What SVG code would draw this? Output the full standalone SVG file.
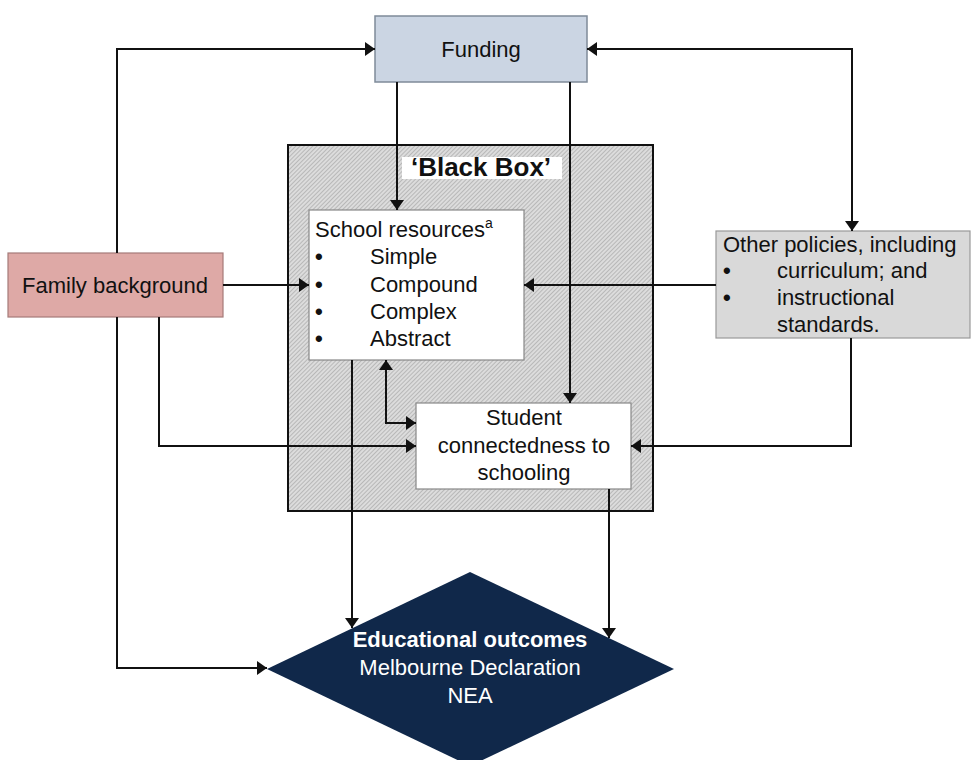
<svg xmlns="http://www.w3.org/2000/svg" width="972" height="760" viewBox="0 0 972 760">
<style>
text{font-family:"Liberation Sans",Arial,sans-serif;font-size:22px;fill:#111}
.c{text-anchor:middle}
.b{font-weight:bold}
.w{fill:#fff}
.bu{font-weight:bold}
.ln{fill:none;stroke:#111;stroke-width:2}
.wbox{fill:#fff;stroke:#888;stroke-width:1.2}
</style>
<defs>
<pattern id="hatch" width="3" height="3" patternUnits="userSpaceOnUse" patternTransform="rotate(45)">
<rect width="3" height="3" fill="#dcdcdc"/>
<line x1="0" y1="0" x2="0" y2="3" stroke="#9a9a9a" stroke-width="1.1"/>
</pattern>
<marker id="ah" viewBox="0 0 10 14" refX="10" refY="7" markerWidth="11" markerHeight="14" markerUnits="userSpaceOnUse" orient="auto-start-reverse">
<path d="M0,0 L10,7 L0,14 z" fill="#111"/>
</marker>
</defs>
<rect width="972" height="760" fill="#fff"/>

<g id="blackbox">
<rect x="288" y="145" width="365" height="366" fill="url(#hatch)" stroke="#111" stroke-width="2"/>
<rect x="402" y="157" width="160" height="22" fill="#fff"/>
<text x="481" y="176" class="c b" style="font-size:26px">‘Black Box’</text>
</g>

<g id="funding">
<rect x="375" y="16" width="212" height="66" fill="#cbd5e3" stroke="#7f8a99" stroke-width="1.5"/>
<text x="481" y="57" class="c">Funding</text>
</g>

<g id="family">
<rect x="8" y="253" width="215" height="64" fill="#dea9a6" stroke="#a57b79" stroke-width="1.2"/>
<text x="115" y="293" class="c">Family background</text>
</g>

<g id="school">
<rect x="309" y="210" width="215" height="150" class="wbox"/>
<text x="315" y="237">School resources<tspan font-size="14" dy="-9">a</tspan></text>
<text x="315" y="264" class="bu">•</text><text x="370" y="264">Simple</text>
<text x="315" y="292" class="bu">•</text><text x="370" y="292">Compound</text>
<text x="315" y="319" class="bu">•</text><text x="370" y="319">Complex</text>
<text x="315" y="346" class="bu">•</text><text x="370" y="346">Abstract</text>
</g>

<g id="other">
<rect x="716" y="231" width="254" height="107" fill="#d9d9d9" stroke="#999" stroke-width="1.2"/>
<text x="723" y="252">Other policies, including</text>
<text x="723" y="278" class="bu">•</text><text x="777" y="278">curriculum; and</text>
<text x="723" y="305" class="bu">•</text><text x="777" y="305">instructional</text>
<text x="777" y="332">standards.</text>
</g>

<g id="student">
<rect x="416" y="403" width="215" height="86" class="wbox"/>
<text x="524" y="425" class="c">Student</text>
<text x="524" y="453" class="c">connectedness to</text>
<text x="524" y="480" class="c">schooling</text>
</g>

<g id="outcomes">
<polygon points="470,572 674,669 470,766 267,669" fill="#10284a"/>
<text x="470" y="647" class="c b w">Educational outcomes</text>
<text x="470" y="675" class="c w">Melbourne Declaration</text>
<text x="470" y="703" class="c w">NEA</text>
</g>

<g id="connectors">
<path class="ln" d="M117,253 V49 H375" marker-end="url(#ah)"/>
<path class="ln" d="M117,317 V668 H267" marker-end="url(#ah)"/>
<path class="ln" d="M223,285 H309" marker-end="url(#ah)"/>
<path class="ln" d="M159,317 V446 H416" marker-end="url(#ah)"/>
<path class="ln" d="M587,49 H852 V231" marker-start="url(#ah)" marker-end="url(#ah)"/>
<path class="ln" d="M397,82 V210" marker-end="url(#ah)"/>
<path class="ln" d="M570,82 V403" marker-end="url(#ah)"/>
<path class="ln" d="M716,285 H524" marker-end="url(#ah)"/>
<path class="ln" d="M851,338 V446 H631" marker-end="url(#ah)"/>
<path class="ln" d="M386,360 V423 H416" marker-start="url(#ah)" marker-end="url(#ah)"/>
<path class="ln" d="M352,360 V628" marker-end="url(#ah)"/>
<path class="ln" d="M609,489 V638" marker-end="url(#ah)"/>
</g>
</svg>
